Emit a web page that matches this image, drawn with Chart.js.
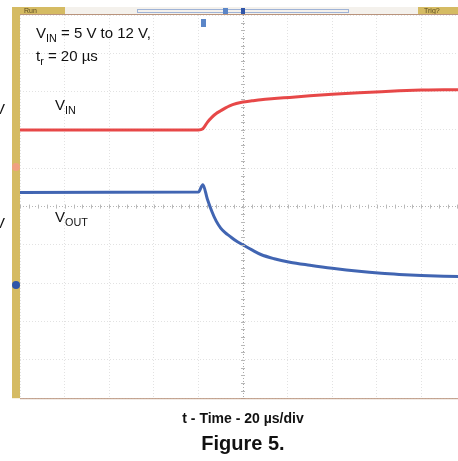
<!DOCTYPE html>
<html>
<head>
<meta charset="utf-8">
<script src="https://cdn.jsdelivr.net/npm/chart.js@4.4.1/dist/chart.umd.min.js"></script>
<style>
  html, body { margin: 0; padding: 0; background: #fff; }
  .wrap { width: 458px; height: 461px; overflow: hidden; position: relative; }
  canvas { display: block; }
</style>
</head>
<body>
<div class="wrap">
  <canvas id="scope" width="470" height="461"></canvas>
</div>
<script>
// time in us (20 us/div, trigger at centre), values in screen divisions
const timeUs = [-100, -20, -18, -16, -14, -12, -10, -8, -6, -3, 0, 4, 8, 14, 21, 30, 40, 52, 62, 70, 80, 90, 100];
const vinDiv = [2.0, 2.0, 2.03, 2.2, 2.33, 2.43, 2.5, 2.57, 2.63, 2.69, 2.73, 2.76, 2.79, 2.82, 2.85, 2.89, 2.93, 2.97, 3.0, 3.02, 3.04, 3.05, 3.05];
const voutDiv = [0.37, 0.38, 0.57, 0.2, -0.12, -0.38, -0.56, -0.68, -0.77, -0.9, -1.0, -1.13, -1.25, -1.36, -1.45, -1.53, -1.61, -1.69, -1.74, -1.77, -1.8, -1.82, -1.83];

const FONT = "'Liberation Sans', Arial, sans-serif";
const gold = "#d5bb63";

const toPoints = (vals) => timeUs.map((t, i) => ({ x: t, y: vals[i] }));

// text with a subscript part, e.g. V + IN
function subText(ctx, parts, x, y, size) {
  parts.forEach((p) => {
    const s = p.sub ? size * 0.72 : size;
    ctx.font = s + "px " + FONT;
    ctx.fillText(p.t, x, p.sub ? y + size * 0.28 : y);
    x += ctx.measureText(p.t).width;
  });
}

const scopeDecor = {
  id: "scopeDecor",
  beforeDraw(chart) {
    const { ctx, chartArea: a } = chart;
    ctx.save();
    // header strip
    ctx.fillStyle = "#f4f1ec";
    ctx.fillRect(a.left, 7, 458 - a.left, 7);
    ctx.fillStyle = gold;
    ctx.fillRect(12, 7, 53, 8);
    ctx.fillRect(418, 7, 40, 8);
    ctx.fillRect(12, 7, 8, a.bottom - 7);
    ctx.fillStyle = "#5a4a20";
    ctx.font = "7px " + FONT;
    ctx.fillText("Run", 24, 13);
    ctx.fillText("Trig?", 424, 13);
    ctx.strokeStyle = "#9fb3d6";
    ctx.lineWidth = 1;
    ctx.strokeRect(137.5, 9.5, 211, 3);
    ctx.strokeStyle = "#b9937c";
    ctx.beginPath();
    ctx.moveTo(a.left, 14.5);
    ctx.lineTo(458, 14.5);
    ctx.stroke();
    ctx.restore();
  },
  afterDatasetsDraw(chart) {
    const { ctx, chartArea: a, scales: { x, y } } = chart;
    ctx.save();
    // small ticks on the centre cross
    ctx.strokeStyle = "#b8b8b8";
    ctx.lineWidth = 1;
    const x0 = x.getPixelForValue(0), y0 = y.getPixelForValue(0);
    ctx.beginPath();
    for (let v = -5; v <= 5; v += 0.2) {
      const py = Math.round(y.getPixelForValue(v)) + 0.5;
      ctx.moveTo(x0 - 2, py); ctx.lineTo(x0 + 2, py);
    }
    for (let t = -100; t <= 100; t += 4) {
      const px = Math.round(x.getPixelForValue(t)) + 0.5;
      ctx.moveTo(px, y0 - 2); ctx.lineTo(px, y0 + 2);
    }
    ctx.stroke();
    // bottom frame
    ctx.strokeStyle = "#b9937c";
    ctx.beginPath();
    ctx.moveTo(a.left, a.bottom + 0.5);
    ctx.lineTo(458, a.bottom + 0.5);
    ctx.stroke();
    // markers
    ctx.fillStyle = "#2f55a8";
    ctx.fillRect(x0 - 2, 8, 4, 6);
    ctx.fillStyle = "#5b86c8";
    ctx.fillRect(223, 8, 5, 6);
    ctx.fillRect(201, 19, 5, 8);
    ctx.fillStyle = "#f0a080";
    ctx.beginPath(); ctx.arc(16, 167, 4, 0, Math.PI * 2); ctx.fill();
    ctx.fillStyle = "#2f55a8";
    ctx.beginPath(); ctx.arc(16, 285, 4, 0, Math.PI * 2); ctx.fill();
    // annotations
    ctx.fillStyle = "#111";
    subText(ctx, [{ t: "V" }, { t: "IN", sub: true }, { t: " = 5 V to 12 V," }], 36, 38, 15);
    subText(ctx, [{ t: "t" }, { t: "r", sub: true }, { t: " = 20 \u00b5s" }], 36, 61, 15);
    subText(ctx, [{ t: "V" }, { t: "IN", sub: true }], 55, 110, 15);
    subText(ctx, [{ t: "V" }, { t: "OUT", sub: true }], 55, 222, 15);
    ctx.font = "15px " + FONT;
    ctx.fillText("V", -5, 114);
    ctx.fillText("V", -5, 228);
    ctx.restore();
  },
};

new Chart(document.getElementById("scope"), {
  type: "line",
  data: {
    datasets: [
      {
        label: "VIN",
        data: toPoints(vinDiv),
        borderColor: "rgba(228, 52, 52, 0.9)",
        borderWidth: 3,
        pointRadius: 0,
        cubicInterpolationMode: "monotone",
      },
      {
        label: "VOUT",
        data: toPoints(voutDiv),
        borderColor: "rgba(44, 84, 170, 0.9)",
        borderWidth: 3,
        pointRadius: 0,
        cubicInterpolationMode: "monotone",
      },
    ],
  },
  options: {
    responsive: false,
    animation: false,
    devicePixelRatio: 1,
    layout: { padding: { left: 20, right: 4, top: 15, bottom: 0 } },
    scales: {
      x: {
        type: "linear",
        min: -100,
        max: 100,
        ticks: { display: false, stepSize: 20 },
        grid: {
          drawTicks: false,
          color: (c) => (c.tick.value === 0 ? "#a9a9a9" : "#e2e2e2"),
        },
        border: { display: false, dash: [1, 2] },
        title: {
          display: true,
          text: "t - Time - 20 \u00b5s/div",
          color: "#111",
          font: { family: FONT, size: 14, weight: "bold" },
          padding: { top: 13, bottom: 0 },
        },
      },
      y: {
        min: -5,
        max: 5,
        ticks: { display: false, stepSize: 1 },
        grid: {
          drawTicks: false,
          color: (c) => (c.tick.value === 0 ? "#b5b5b5" : "#e2e2e2"),
        },
        border: { display: false, dash: [1, 2] },
      },
    },
    plugins: {
      legend: { display: false },
      tooltip: { enabled: false },
      title: {
        display: true,
        position: "bottom",
        text: "Figure 5.",
        color: "#111",
        font: { family: FONT, size: 20, weight: "bold" },
        padding: { top: 4, bottom: 5 },
      },
    },
  },
  plugins: [scopeDecor],
});
</script>
</body>
</html>
